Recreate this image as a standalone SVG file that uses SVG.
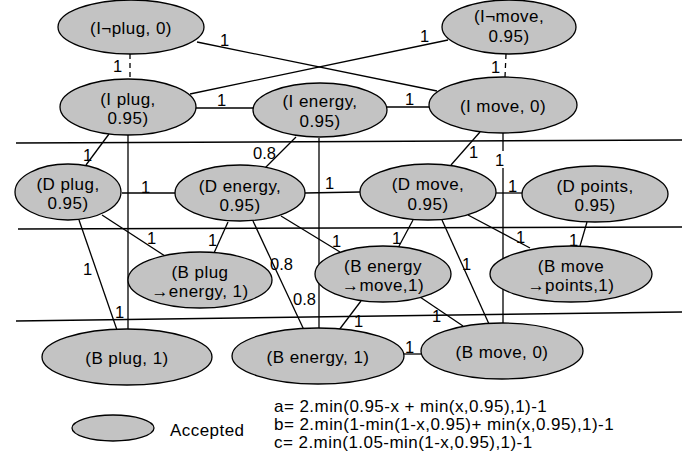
<svg xmlns="http://www.w3.org/2000/svg" width="700" height="461" viewBox="0 0 700 461">
<style>
.n ellipse{fill:#c3c3c3;stroke:#000;stroke-width:1.3}
.n text,.t{font-family:"Liberation Sans",Arial,sans-serif;font-size:17px;letter-spacing:0.45px;fill:#000}
.n text{text-anchor:middle}
.e line{stroke:#000;stroke-width:1.3}
.e .d{stroke-dasharray:5,4}
.h line{stroke:#000;stroke-width:1.5}
.l text{font-family:"Liberation Sans",Arial,sans-serif;font-size:16.5px;fill:#000}
</style>
<rect width="700" height="461" fill="#fff"/>
<g class="h">
<line x1="16" y1="143" x2="682" y2="140"/>
<line x1="18" y1="229" x2="682" y2="227"/>
<line x1="16" y1="321" x2="682" y2="312"/>
</g>
<g class="e">
<line x1="197" y1="42" x2="437" y2="91"/>
<line x1="190" y1="94" x2="448" y2="40"/>
<line class="d" x1="130" y1="54" x2="130" y2="80"/>
<line class="d" x1="506" y1="54" x2="505" y2="77"/>
<line x1="195" y1="108" x2="253" y2="108"/>
<line x1="387" y1="107" x2="429" y2="107"/>
<line x1="109" y1="134" x2="86" y2="165"/>
<line x1="128" y1="134" x2="128" y2="330"/>
<line x1="296" y1="137" x2="265" y2="168"/>
<line x1="319" y1="138" x2="319" y2="330"/>
<line x1="480" y1="132" x2="451" y2="165"/>
<line x1="503" y1="132" x2="503" y2="151"/>
<line x1="503" y1="168" x2="503" y2="323"/>
<line x1="122" y1="193" x2="176" y2="193"/>
<line x1="305" y1="193" x2="360" y2="192"/>
<line x1="496" y1="193" x2="522" y2="193"/>
<line x1="102" y1="215" x2="165" y2="256"/>
<line x1="79" y1="220" x2="117" y2="330"/>
<line x1="228" y1="222" x2="214" y2="253"/>
<line x1="253" y1="221" x2="304" y2="330"/>
<line x1="281" y1="216" x2="340" y2="252"/>
<line x1="413" y1="220" x2="398" y2="248"/>
<line x1="442" y1="220" x2="489" y2="324"/>
<line x1="468" y1="215" x2="530" y2="248"/>
<line x1="587" y1="222" x2="580" y2="246"/>
<line x1="361" y1="301" x2="339" y2="330"/>
<line x1="420" y1="297" x2="463" y2="326"/>
<line x1="404" y1="354" x2="421" y2="354"/>
</g>
<g class="l">
<text x="220" y="46">1</text>
<text x="420" y="42">1</text>
<text x="113" y="72">1</text>
<text x="491" y="73">1</text>
<text x="217" y="106">1</text>
<text x="405" y="105">1</text>
<text x="83" y="161">1</text>
<text x="253" y="159">0.8</text>
<text x="469" y="158">1</text>
<text x="495" y="166">1</text>
<text x="141" y="193">1</text>
<text x="325" y="189">1</text>
<text x="508" y="192">1</text>
<text x="147" y="244">1</text>
<text x="83" y="275">1</text>
<text x="115" y="318">1</text>
<text x="208" y="246">1</text>
<text x="270" y="270">0.8</text>
<text x="293" y="305">0.8</text>
<text x="332" y="247">1</text>
<text x="392" y="244">1</text>
<text x="462" y="270">1</text>
<text x="516" y="243">1</text>
<text x="569" y="246">1</text>
<text x="354" y="327">1</text>
<text x="432" y="322">1</text>
<text x="405" y="353">1</text>
</g>
<g id="n-inotplug" class="n"><ellipse cx="131" cy="27" rx="73" ry="27"/><text x="131" y="34">(I¬plug, 0)</text></g>
<g id="n-inotmove" class="n"><ellipse cx="509" cy="27" rx="67" ry="27"/><text x="509" y="22">(I¬move,</text><text x="509" y="42">0.95)</text></g>
<g id="n-iplug" class="n"><ellipse cx="128" cy="107" rx="68" ry="28"/><text x="128" y="105">(I plug,</text><text x="128" y="124">0.95)</text></g>
<g id="n-ienergy" class="n"><ellipse cx="320" cy="110" rx="67" ry="27"/><text x="320" y="107">(I energy,</text><text x="320" y="127">0.95)</text></g>
<g id="n-imove" class="n"><ellipse cx="503" cy="105" rx="74" ry="28"/><text x="503" y="112">(I move, 0)</text></g>
<g id="n-dplug" class="n"><ellipse cx="68" cy="192" rx="53" ry="28"/><text x="68" y="190">(D plug,</text><text x="68" y="209">0.95)</text></g>
<g id="n-denergy" class="n"><ellipse cx="240" cy="193" rx="65" ry="28"/><text x="240" y="192">(D energy,</text><text x="240" y="211">0.95)</text></g>
<g id="n-dmove" class="n"><ellipse cx="428" cy="192" rx="68" ry="28"/><text x="428" y="190">(D move,</text><text x="428" y="210">0.95)</text></g>
<g id="n-dpoints" class="n"><ellipse cx="595" cy="194" rx="73" ry="28"/><text x="595" y="192">(D points,</text><text x="595" y="211">0.95)</text></g>
<g id="n-bplugenergy" class="n"><ellipse cx="200" cy="280" rx="72" ry="28"/><text x="200" y="278">(B plug</text><text x="200" y="297">→energy, 1)</text></g>
<g id="n-benergymove" class="n"><ellipse cx="383" cy="274" rx="68" ry="28"/><text x="383" y="272">(B energy</text><text x="383" y="291">→move,1)</text></g>
<g id="n-bmovepoints" class="n"><ellipse cx="571" cy="274" rx="81" ry="28"/><text x="571" y="272">(B move</text><text x="571" y="291">→points,1)</text></g>
<g id="n-bplug" class="n"><ellipse cx="127" cy="357" rx="85" ry="28"/><text x="127" y="364">(B plug, 1)</text></g>
<g id="n-benergy" class="n"><ellipse cx="318" cy="356" rx="86" ry="28"/><text x="318" y="363">(B energy, 1)</text></g>
<g id="n-bmove" class="n"><ellipse cx="502" cy="351" rx="81" ry="28"/><text x="502" y="358">(B move, 0)</text></g>
<g id="legend" class="n"><ellipse cx="113" cy="428" rx="41" ry="13"/></g>
<text class="t" x="170" y="436">Accepted</text>
<text class="t" x="274" y="412">a= 2.min(0.95-x + min(x,0.95),1)-1</text>
<text class="t" x="274" y="430">b= 2.min(1-min(1-x,0.95)+ min(x,0.95),1)-1</text>
<text class="t" x="274" y="448">c= 2.min(1.05-min(1-x,0.95),1)-1</text>
</svg>
